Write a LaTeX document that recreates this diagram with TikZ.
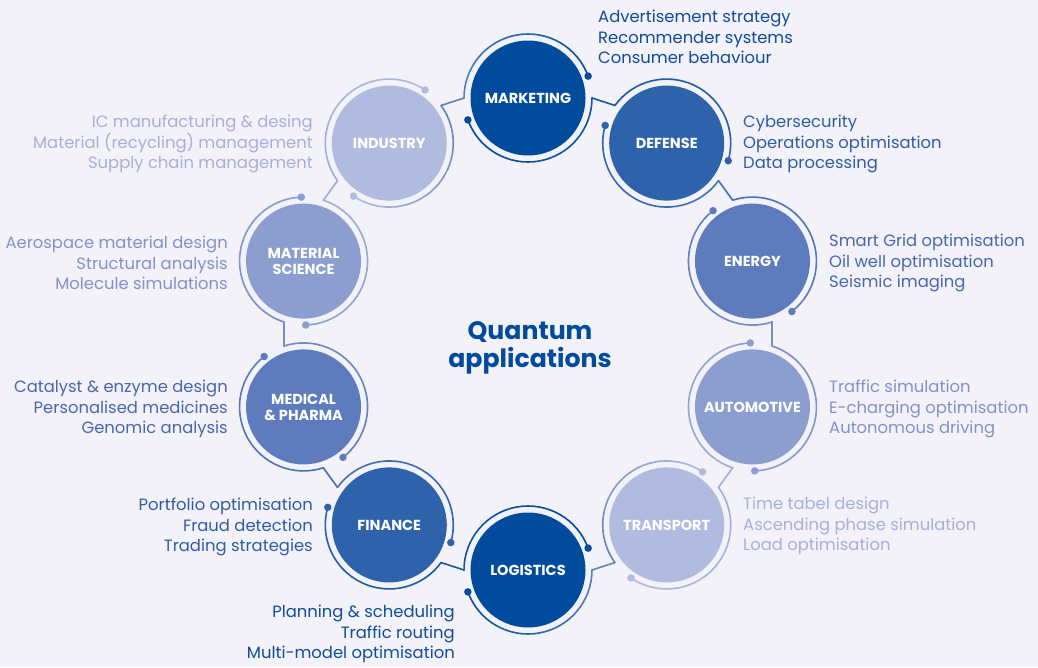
\documentclass[tikz,border=0pt]{standalone}
\usepackage{fontspec}
\setmainfont{Poppins}
\usetikzlibrary{calc}
\definecolor{bg}{HTML}{F2F2F8}
\definecolor{col1}{HTML}{004B9C}
\definecolor{col2}{HTML}{2E63AB}
\definecolor{col3}{HTML}{5E7CBD}
\definecolor{col4}{HTML}{8C9ECF}
\definecolor{col5}{HTML}{B1BADF}
\colorlet{col6}{col1}
\colorlet{col7}{col2}
\colorlet{col8}{col3}
\colorlet{col9}{col4}
\colorlet{col10}{col5}
\definecolor{txa}{HTML}{0F4C9D}
\definecolor{txb}{HTML}{2D5DA7}
\definecolor{txc}{HTML}{4767B1}
\definecolor{txd}{HTML}{8192CB}
\definecolor{txe}{HTML}{A5AFDA}
\begin{document}
\begin{tikzpicture}[x=1pt,y=1pt,
  ringnode/.style={circle,minimum size=128pt,inner sep=0pt,outer sep=0pt},
  disc/.style={circle,minimum size=115pt,inner sep=0pt,outer sep=0pt,text=white,
     font=\bfseries\fontsize{14.5}{16}\selectfont,align=center},
  ringline/.style={line width=1.6pt,line cap=round},
  dotmark/.style={circle,inner sep=0pt,minimum size=7.5pt},
  listtext/.style={inner sep=0pt,font=\fontsize{16.4}{20.4}\selectfont},
  listL/.style={listtext,anchor=west,align=left},
  listR/.style={listtext,anchor=east,align=right},
  titletext/.style={inner sep=0pt,align=center,text=col1,font=\bfseries\fontsize{25.2}{28.5}\selectfont}]
\fill[bg] (0,0) rectangle (1038,-667);
\useasboundingbox (0,0) rectangle (1038,-667);
% circles
\foreach \i/\ang/\lab in {1/90/MARKETING,2/54/DEFENSE,3/18/ENERGY,4/-18/AUTOMOTIVE,5/-54/TRANSPORT,
   6/-90/LOGISTICS,7/-126/FINANCE,8/-162/{MEDICAL\\\& PHARMA},9/-198/{MATERIAL\\SCIENCE},10/-234/INDUSTRY}{
  \node[ringnode] (r\i) at ($(528,-334)+(\ang:236)$) {};
  \node[disc,fill=col\i] (d\i) at (r\i.center) {\lab};
}
% ring arcs with gradient
\foreach \i/\ang in {1/90,2/54,3/18,4/-18,5/-54,6/-90,7/-126,8/-162,9/-198,10/-234}{
  \pgfmathtruncatemacro{\prv}{mod(\i+8,10)+1}
  \pgfmathtruncatemacro{\nxt}{mod(\i,10)+1}
  \foreach \k in {0,...,15}{
    \pgfmathtruncatemacro{\pa}{50+50*(\k+0.5)/16}
    \pgfmathtruncatemacro{\pb}{100-50*(\k+0.5)/16}
    \pgfmathsetmacro{\sa}{\ang+90-10*\k}
    \pgfmathsetmacro{\sb}{\ang+110+10*\k}
    \draw[ringline,color=col\i!\pa!col\prv] (r\i.center) ++(\sa:64) arc[start angle=\sa,delta angle=-10,radius=64];
    \draw[ringline,color=col\i!\pb!col\nxt] (r\i.center) ++(\sb:64) arc[start angle=\sb,delta angle=10,radius=64];
  }
  \pgfmathsetmacro{\da}{\ang-70}
  \pgfmathsetmacro{\db}{\ang+110}
  \node[dotmark,fill=col\i] (pa\i) at (r\i.\da) {};
  \node[dotmark,fill=col\i] (pb\i) at (r\i.\db) {};
}
% connectors
\foreach \i/\ang in {1/90,2/54,3/18,4/-18,5/-54,6/-90,7/-126,8/-162,9/-198,10/-234}{
  \pgfmathtruncatemacro{\nxt}{mod(\i,10)+1}
  \pgfmathsetmacro{\oa}{\ang-90}
  \pgfmathsetmacro{\ia}{\ang-36+90}
  \draw[ringline,color=col\i!50!col\nxt] (r\i.\oa) -- (r\nxt.\ia);
}
% title
\node[titletext] (title) at (530,-348) {Quantum\\applications};
% lists
\node[listL,text=txa] (t1) at (598,-37) {Advertisement strategy\\Recommender systems\\Consumer behaviour};
\node[listL,text=txb] (t2) at (743,-144) {Cybersecurity\\Operations optimisation\\Data processing};
\node[listL,text=txc] (t3) at (829,-263) {Smart Grid optimisation\\Oil well optimisation\\Seismic imaging};
\node[listL,text=txd] (t4) at (829,-409) {Traffic simulation\\E-charging optimisation\\Autonomous driving};
\node[listL,text=txe] (t5) at (743,-526) {Time tabel design\\Ascending phase simulation\\Load optimisation};
\node[listR,text=txa] (t6) at (455,-634) {Planning \& scheduling\\Traffic routing\\Multi-model optimisation};
\node[listR,text=txb] (t7) at (313,-527) {Portfolio optimisation\\Fraud detection\\Trading strategies};
\node[listR,text=txc] (t8) at (228,-409) {Catalyst \& enzyme design\\Personalised medicines\\Genomic analysis};
\node[listR,text=txd] (t9) at (228,-263) {Aerospace material design\\Structural analysis\\Molecule simulations};
\node[listR,text=txe] (t10) at (313,-144) {IC manufacturing \& desing\\Material (recycling) management\\Supply chain management};
\end{tikzpicture}
\end{document}
